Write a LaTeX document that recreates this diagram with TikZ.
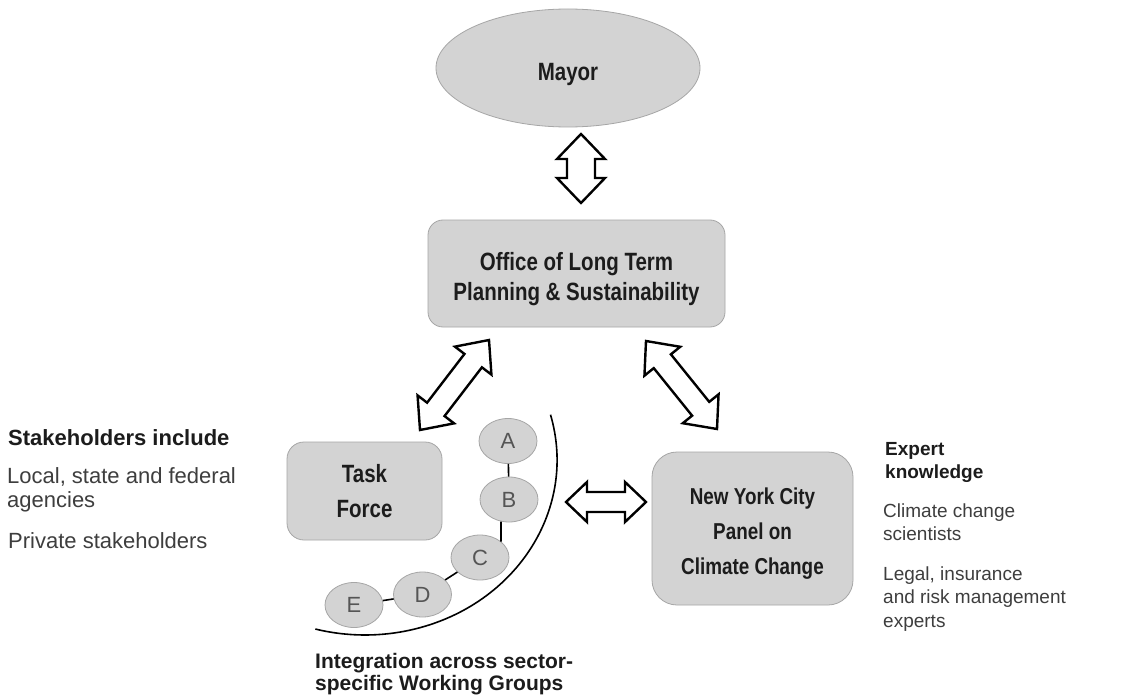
\documentclass[tikz,border=0pt]{standalone}
\usepackage{fontspec}
\setmainfont{Liberation Sans}
\newfontfamily\narrowfont[FakeStretch=0.82]{Liberation Sans}
\usetikzlibrary{calc,shapes.geometric}
\definecolor{boxfill}{HTML}{D3D3D3}
\definecolor{boxline}{HTML}{A6A6A6}
\definecolor{darktxt}{HTML}{1C1C1C}
\definecolor{softtxt}{HTML}{3E3E3E}
\definecolor{lettertxt}{HTML}{555555}
% double block arrow between two named points:
% #1,#2 tips, #3 head length, #4 half head width, #5 half shaft width
\newcommand{\blockarrow}[5]{%
  \draw[barrow] (#1)
    -- ($(#1)!#3!(#2)!#4!90:(#2)$)
    -- ($(#1)!#3!(#2)!#5!90:(#2)$)
    -- ($(#2)!#3!(#1)!#5!-90:(#1)$)
    -- ($(#2)!#3!(#1)!#4!-90:(#1)$)
    -- (#2)
    -- ($(#2)!#3!(#1)!#4!90:(#1)$)
    -- ($(#2)!#3!(#1)!#5!90:(#1)$)
    -- ($(#1)!#3!(#2)!#5!-90:(#2)$)
    -- ($(#1)!#3!(#2)!#4!-90:(#2)$)
    -- cycle;}
\begin{document}
\begin{tikzpicture}[x=1pt,y=-1pt,
  barrow/.style={draw=black, fill=white, line width=2.4pt, line join=miter},
  graybox/.style={draw=boxline, fill=boxfill, line width=0.8pt, text=darktxt, align=center, inner sep=0pt},
  wg/.style={ellipse, draw=boxline, fill=boxfill, line width=0.8pt, minimum width=58pt, minimum height=45pt, inner sep=0pt, text=lettertxt, font=\fontsize{22}{22}\selectfont},
  headtxt/.style={anchor=base west, align=left, inner sep=0pt, text=darktxt, font=\bfseries\fontsize{#1}{#1}\selectfont},
  bodytxt/.style={anchor=base west, align=left, inner sep=0pt, text=softtxt, font=\fontsize{#1}{#1}\selectfont},
  link/.style={draw=black, line width=1.6pt}
]
\useasboundingbox[fill=white] (0,0) rectangle (1141,698);

% main nodes
\node[graybox, ellipse, minimum width=264pt, minimum height=118pt,
      font=\narrowfont\bfseries\fontsize{25}{30}\selectfont] (mayor) at (568,68)
      {\rule{0pt}{29.2pt}Mayor};
\node[graybox, rounded corners=15pt, minimum width=297pt, minimum height=107pt,
      font=\narrowfont\bfseries\fontsize{25}{30}\selectfont] (office) at (576.5,273.5)
      {\rule{0pt}{28.3pt}Office of Long Term\\Planning \& Sustainability};
\node[graybox, rounded corners=17pt, minimum width=155pt, minimum height=98pt,
      font=\narrowfont\bfseries\fontsize{25}{35}\selectfont] (task) at (364.5,491)
      {\rule{0pt}{19pt}Task\\Force};
\node[graybox, rounded corners=25pt, minimum width=201pt, minimum height=153pt,
      font=\narrowfont\bfseries\fontsize{23}{35}\selectfont] (nyc) at (752.5,528.5)
      {\rule{0pt}{27.8pt}New York City\\Panel on\\Climate Change};

% working groups
\node[wg] (A) at (508,441) {A};
\node[wg] (B) at (509,499.5) {B};
\node[wg] (C) at (480,557.5) {C};
\node[wg] (D) at (422.5,594.5) {D};
\node[wg] (E) at (354,605) {E};
\draw[link] (A) -- (B);
\draw[link] (B.250) -- ($(C.center)+(21,-15.8)$);
\draw[link] (C) -- (D);
\draw[link] (D) -- (E);

% integration arc
\coordinate (arcstart) at (550.5,414.7);
\draw[line width=1.6pt] (arcstart) arc[start angle=-15, end angle=105, x radius=192, y radius=175];

% block arrows
\coordinate (va1) at (581,134);
\coordinate (va2) at (581,203);
\blockarrow{va1}{va2}{25pt}{24pt}{14pt}
\coordinate (la1) at (489,340);
\coordinate (la2) at (420,430);
\blockarrow{la1}{la2}{26pt}{23pt}{11pt}
\coordinate (ra1) at (646,341);
\coordinate (ra2) at (717,429);
\blockarrow{ra1}{ra2}{26pt}{23pt}{11pt}
\coordinate (ha1) at (566,502);
\coordinate (ha2) at (646,502);
\blockarrow{ha1}{ha2}{21pt}{20pt}{10pt}

% left texts (base anchor = baseline of last line)
\node[headtxt=22] (sthead) at (8,445) {Stakeholders include};
\node[bodytxt=22, font=\fontsize{22}{24}\selectfont] (stagency) at (7,507) {Local, state and federal\\agencies};
\node[bodytxt=22] (stprivate) at (8,548) {Private stakeholders};

% right texts
\node[headtxt=19, font=\bfseries\fontsize{19}{23}\selectfont] (exhead) at (885,478) {Expert\\knowledge};
\node[bodytxt=19, font=\fontsize{19}{23}\selectfont] (exsci) at (883,540) {Climate change\\scientists};
\node[bodytxt=19, font=\fontsize{19}{23.5}\selectfont] (exlegal) at (883,627) {Legal, insurance\\and risk management\\experts};

% bottom text
\node[headtxt=21, font=\bfseries\fontsize{21}{22}\selectfont] (integ) at (315,690) {Integration across sector-\\specific Working Groups};
\end{tikzpicture}
\end{document}
